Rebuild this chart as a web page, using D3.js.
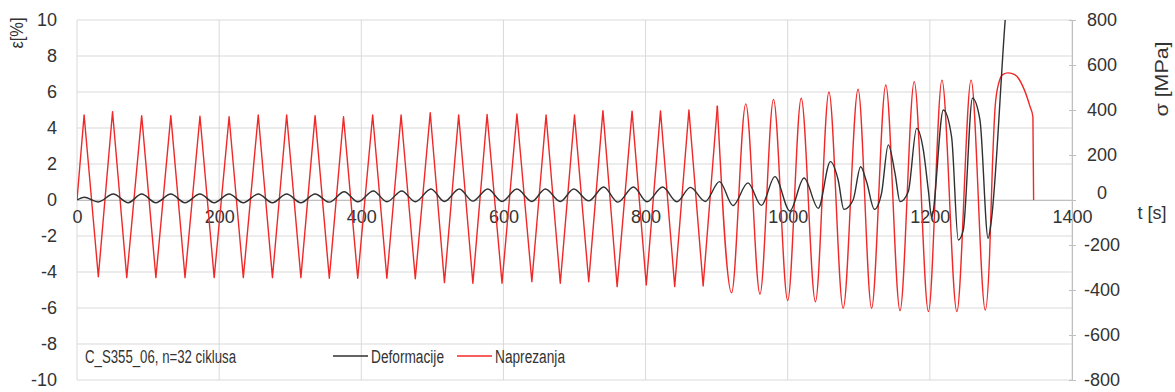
<!DOCTYPE html>
<html><head><meta charset="utf-8">
<script src="https://cdn.jsdelivr.net/npm/d3@7"></script>
<style>
body{margin:0;background:#fff}
text{font-family:"Liberation Sans",Arial,sans-serif;fill:#333}
</style>
</head><body><svg id="c" width="1175" height="392"></svg>
<script>
// ---- data ----
const timeTicks = [0, 200, 400, 600, 800, 1000, 1200, 1400];
const strainTicks = [-10, -8, -6, -4, -2, 0, 2, 4, 6, 8, 10];
const stressTicks = [-800, -600, -400, -200, 0, 200, 400, 600, 800];

// stress (Naprezanja, MPa): cycle peaks and troughs
const peakTimes = [10, 50, 91, 132, 173, 214, 255, 295, 335, 375, 416, 456, 497, 537, 577, 619,
                   660, 700, 740, 781, 821, 861, 901, 941, 980, 1019, 1058, 1099, 1138, 1178, 1217, 1258];
const stressPeaks = [378, 392, 375, 375, 372, 370, 378, 378, 375, 370, 378, 378, 388, 378, 380, 382,
                     378, 378, 397, 395, 396, 400, 419, 427, 447, 452, 480, 492, 511, 526, 533, 533];
const troughTimes = [30, 70, 111, 152, 193, 234, 275, 315, 355, 395, 436, 476, 517, 557, 598, 640,
                     680, 720, 760, 801, 841, 881, 921, 961, 1000, 1039, 1078, 1118, 1158, 1198, 1238, 1278];
const stressTroughs = [-341, -345, -345, -345, -345, -345, -345, -345, -348, -348, -348, -350, -367, -370, -370, -363,
                       -370, -363, -385, -378, -385, -382, -412, -418, -447, -452, -481, -481, -492, -496, -496, -489];
// final loading to failure
const tailTimes = [1284, 1288, 1292, 1297, 1303, 1310, 1320, 1331, 1341, 1345, 1346];
const tailStress = [-250, 150, 420, 520, 558, 565, 556, 504, 415, 370, 0];

// strain (Deformacije, %)
const strainTimes = [0, 10, 30, 51, 72, 91, 111, 132, 152, 173, 193, 214, 234, 255, 275, 295, 315, 335, 355,
  376, 395, 417, 436, 457, 476, 498, 517, 538, 557, 578, 598, 619, 640, 659, 680, 699, 720, 741, 761, 783,
  802, 824, 844, 863, 884, 904, 923, 944, 963, 982, 1003, 1023, 1043, 1060, 1071, 1079, 1092, 1102.6, 1111,
  1122, 1132, 1141.5, 1151, 1158, 1169.6, 1181.4, 1190.8, 1197.8, 1202.5, 1219, 1230.6, 1240, 1247, 1260,
  1270.5, 1282, 1286, 1306, 1312];
const strainValues = [0, 0.15, -0.11, 0.33, -0.15, 0.33, -0.15, 0.33, -0.15, 0.33, -0.15, 0.33, -0.15, 0.33,
  -0.15, 0.33, -0.15, 0.33, -0.12, 0.46, -0.1, 0.5, -0.1, 0.5, -0.1, 0.61, -0.08, 0.61, -0.06, 0.61, -0.08,
  0.61, -0.08, 0.61, -0.08, 0.61, -0.05, 0.72, -0.12, 0.72, -0.1, 0.72, -0.1, 0.7, -0.08, 1.02, -0.31, 0.95,
  -0.3, 1.3, -0.61, 1.22, -0.46, 2.13, 1.11, -0.52, 0, 1.85, 1.0, -0.52, 0.37, 3.06, 1.48, -0.09, 0.46, 3.98,
  2.78, 0.56, -0.93, 5.0, 3.5, -2.22, -1.67, 5.65, 4.44, -2.13, -1.3, 10, 13];

const legendLabels = ["Deformacije", "Naprezanja"];
const seriesColors = ["#303030", "#f02828"];
const sampleLabel = "C_S355_06, n=32 ciklusa";

// ---- chart ----
const svg = d3.select("#c");
const x = d3.scaleLinear().domain([0, 1400]).range([77, 1072]);
const yL = d3.scaleLinear().domain([-10, 10]).range([380, 20]);
const yR = d3.scaleLinear().domain([-800, 800]).range([380, 20]);
const fmt = d => String(d);

svg.append("defs").append("clipPath").attr("id", "clip")
  .append("rect").attr("x", 77).attr("y", 20).attr("width", 995).attr("height", 360);

// gridlines
const grid = svg.append("g").attr("stroke", "#d9d9d9").attr("stroke-width", 1);
grid.selectAll("line.h").data(strainTicks).join("line").attr("class", "h")
  .attr("x1", x(0)).attr("x2", x(1400)).attr("y1", d => yL(d)).attr("y2", d => yL(d));
grid.selectAll("line.v").data(timeTicks).join("line").attr("class", "v")
  .attr("x1", d => x(d)).attr("x2", d => x(d)).attr("y1", yL(10)).attr("y2", yL(-10));

// left axis
const gl = svg.append("g").attr("transform", `translate(${x(0)},0)`)
  .call(d3.axisLeft(yL).tickValues(strainTicks).tickSize(0).tickPadding(20).tickFormat(fmt));
gl.select(".domain").remove();
gl.selectAll("text").attr("font-size", 18).style("fill", "#333");

// bottom axis at zero
const gb = svg.append("g").attr("transform", `translate(0,${yL(0)})`)
  .call(d3.axisBottom(x).tickValues(timeTicks).tickSize(0).tickPadding(10.5).tickFormat(fmt));
gb.select(".domain").attr("stroke", "#bfbfbf");
gb.selectAll("text").attr("font-size", 18).style("fill", "#333");

// right axis
const gr = svg.append("g").attr("transform", `translate(${x(1400)},0)`)
  .call(d3.axisRight(yR).tickValues(stressTicks).tickSize(4).tickFormat(fmt));
gr.select(".domain").attr("stroke", "#bfbfbf");
gr.selectAll(".tick line").attr("stroke", "#bfbfbf").attr("x1", -3);
gr.selectAll("text").attr("font-size", 18).style("fill", "#333")
  .attr("text-anchor", "middle").attr("x", 30)
  .attr("y", d => d === 0 ? -7.5 : 0);

// titles
svg.append("text").attr("transform", "translate(17,33) rotate(-90)")
  .attr("text-anchor", "middle").attr("dy", "0.35em").attr("font-size", 18)
  .attr("textLength", 31).attr("lengthAdjust", "spacingAndGlyphs").text("ε[%]");
svg.append("text").attr("transform", "translate(1162,79) rotate(-90)")
  .attr("text-anchor", "middle").attr("dy", "0.35em").attr("font-size", 18)
  .attr("textLength", 75).attr("lengthAdjust", "spacingAndGlyphs").text("σ [MPa]");
svg.append("text").attr("x", 1152).attr("y", 219).attr("text-anchor", "middle")
  .attr("font-size", 18).text("t [s]");

// series data
const stress = [{t: 0, v: 0}];
peakTimes.forEach((t, i) => {
  stress.push({t, v: stressPeaks[i]});
  stress.push({t: troughTimes[i], v: stressTroughs[i]});
});
tailTimes.forEach((t, i) => stress.push({t, v: tailStress[i]}));
const strain = strainTimes.map((t, i) => ({t, v: strainValues[i]}));

const plot = svg.append("g").attr("clip-path", "url(#clip)");
const splitT = 901;
const early = stress.filter(d => d.t <= splitT);
const late = stress.filter(d => d.t >= splitT);
const lineLin = d3.line().x(d => x(d.t)).y(d => yR(d.v)).curve(d3.curveLinear);
const lineMono = d3.line().x(d => x(d.t)).y(d => yR(d.v)).curve(d3.curveMonotoneX);
plot.append("path").attr("d", lineLin(early)).attr("fill", "none")
  .attr("stroke", seriesColors[1]).attr("stroke-width", 1.4).attr("stroke-linejoin", "round");
plot.append("path").attr("d", lineMono(late)).attr("fill", "none")
  .attr("stroke", seriesColors[1]).attr("stroke-width", 1.4).attr("stroke-linejoin", "round");

const lineStrain = d3.line().x(d => x(d.t)).y(d => yL(d.v)).curve(d3.curveMonotoneX);
plot.append("path").attr("d", lineStrain(strain)).attr("fill", "none")
  .attr("stroke", seriesColors[0]).attr("stroke-width", 1.4);

// sample label + legend
const ly = 356;
svg.append("text").attr("x", 85).attr("y", ly + 6.5).attr("font-size", 18)
  .attr("textLength", 151).attr("lengthAdjust", "spacingAndGlyphs").text(sampleLabel);
const legX = [333, 457];
const legW = [73, 70];
legendLabels.forEach((lab, i) => {
  svg.append("line").attr("x1", legX[i]).attr("x2", legX[i] + 35).attr("y1", ly).attr("y2", ly)
    .attr("stroke", seriesColors[i]).attr("stroke-width", 1.4);
  svg.append("text").attr("x", legX[i] + 38).attr("y", ly + 6.5).attr("font-size", 18)
    .attr("textLength", legW[i]).attr("lengthAdjust", "spacingAndGlyphs").text(lab);
});
</script>
</body></html>
